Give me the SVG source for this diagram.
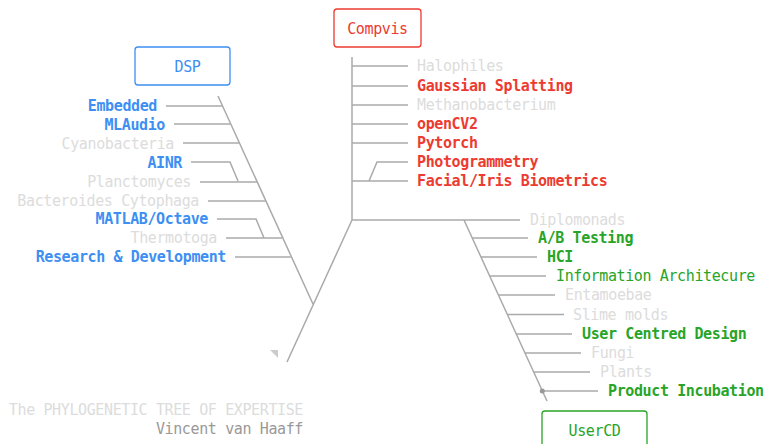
<svg xmlns="http://www.w3.org/2000/svg" width="764" height="444" viewBox="0 0 764 444">
<style>
text{font-family:"DejaVu Sans Mono","Liberation Mono",monospace;font-size:15px;letter-spacing:-0.38px}
.ln{stroke:#aaa;stroke-width:1.5;fill:none}
.g{fill:#dcdcdc}
.b{fill:#3d8ff2}
.r{fill:#ec3b30}
.n{fill:#28a428}
.bd{font-weight:bold}
.e{text-anchor:end}
.box{fill:#fff;stroke-width:1.3}
</style>
<rect width="764" height="444" fill="#fff"/>
<g id="connectors">
<path class="ln" d="M352 57V220H520M352 220L287 362M218 96L313 304M464 220L547 401"/>
<path class="ln" d="M352 66H408M352 86H408M352 105H408M352 124H408M352 143H408M352 181H408M408 162H377L369 181"/>
<path class="ln" d="M166 106H222.5M174 124H230.6M183 143H239.2M191 162H230L238 181M200 182H257M208 201H265.5M217 219H256L264 238M226 238H282M235 257H290.8"/>
<path class="ln" d="M472.3 238H528M481 257H537M489.8 276H546M498.5 295H555M507.3 314.5H564M516 334H572M525 353H581M533.5 372H590M542.3 391H598"/>
<circle cx="542.3" cy="391" r="2.5" fill="#999"/>
<path d="M270 350H278V358Z" fill="#ccc"/>
</g>
<g id="dsp"><rect class="box" x="135" y="47" width="95" height="38" rx="3" stroke="#3d8ff2"/><text class="b" x="187.5" y="72" text-anchor="middle">DSP</text></g>
<g id="compvis"><rect class="box" x="334" y="9" width="87" height="38" rx="3" stroke="#ec3b30"/><text class="r" x="377.5" y="34" text-anchor="middle">Compvis</text></g>
<g id="usercd"><rect class="box" x="542" y="411" width="105" height="40" rx="3" stroke="#28a428"/><text class="n" x="594.5" y="436" text-anchor="middle">UserCD</text></g>
<g id="dsp-leaves">
<text class="b bd e" x="157" y="111">Embedded</text>
<text class="b bd e" x="165" y="130">MLAudio</text>
<text class="g e" x="174" y="149">Cyanobacteria</text>
<text class="b bd e" x="182" y="168">AINR</text>
<text class="g e" x="191" y="187">Planctomyces</text>
<text class="g e" x="199" y="206">Bacteroides Cytophaga</text>
<text class="b bd e" x="208" y="224">MATLAB/Octave</text>
<text class="g e" x="217" y="243">Thermotoga</text>
<text class="b bd e" x="226" y="262">Research &amp; Development</text>
</g>
<g id="compvis-leaves">
<text class="g" x="417" y="71">Halophiles</text>
<text class="r bd" x="417" y="91">Gaussian Splatting</text>
<text class="g" x="417" y="110">Methanobacterium</text>
<text class="r bd" x="417" y="129">openCV2</text>
<text class="r bd" x="417" y="148">Pytorch</text>
<text class="r bd" x="417" y="167">Photogrammetry</text>
<text class="r bd" x="417" y="186">Facial/Iris Biometrics</text>
</g>
<g id="usercd-leaves">
<text class="g" x="530" y="225">Diplomonads</text>
<text class="n bd" x="538" y="243">A/B Testing</text>
<text class="n bd" x="547" y="262">HCI</text>
<text class="n" x="556" y="281">Information Architecure</text>
<text class="g" x="565" y="300">Entamoebae</text>
<text class="g" x="573" y="320">Slime molds</text>
<text class="n bd" x="582" y="339">User Centred Design</text>
<text class="g" x="591" y="358">Fungi</text>
<text class="g" x="600" y="377">Plants</text>
<text class="n bd" x="608" y="396">Product Incubation</text>
</g>
<g id="title">
<text class="e" x="303" y="415" fill="#dcdcdc">The PHYLOGENETIC TREE OF EXPERTISE</text>
<text class="e" x="303" y="434" fill="#999">Vincent van Haaff</text>
</g>
</svg>
